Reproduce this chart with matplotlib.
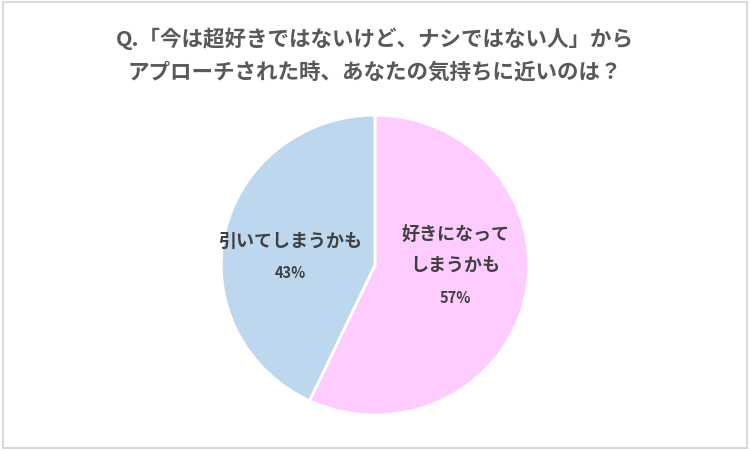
import matplotlib.pyplot as plt
from matplotlib.patches import Rectangle

plt.rcParams['font.family'] = ['Noto Sans CJK JP', 'DejaVu Sans']

# データ
labels = ['好きになって\nしまうかも', '引いてしまうかも']
values = [57, 43]
colors = ['#FFCCFF', '#BDD7EE']
title = 'Q.「今は超好きではないけど、ナシではない人」から\nアプローチされた時、あなたの気持ちに近いのは？'

# ラベルの位置 (データ座標)
label_pos = [(0.52, 0.10), (-0.55, 0.16)]
pct_pos = [(0.52, -0.22), (-0.55, -0.05)]

fig = plt.figure(figsize=(7.5, 4.51), dpi=100)
fig.patches.append(Rectangle((0.004, 0.006), 0.992, 0.99, transform=fig.transFigure,
                             fill=False, edgecolor='#D9D9D9', lw=1.5))

ax = fig.add_axes([0.295, 0.0798, 0.41, 0.665])
ax.pie(values, colors=colors, startangle=90, counterclock=False,
       wedgeprops=dict(edgecolor='white', linewidth=2))
ax.set_xlim(-1, 1)
ax.set_ylim(-1, 1)
ax.set_aspect('auto')

for lab, v, (lx, ly), (px, py) in zip(labels, values, label_pos, pct_pos):
    ax.text(lx, ly, lab, ha='center', va='center', fontsize=13,
            fontweight='bold', color='#404040', linespacing=1.75)
    ax.text(px, py, f'{v}%', ha='center', va='center', fontsize=10.5,
            fontweight='bold', color='#404040')

fig.text(0.5, 0.877, title, ha='center', va='center', fontsize=15.5,
         fontweight='bold', color='#595959', linespacing=1.7)

fig.savefig('out.png', dpi=100)
